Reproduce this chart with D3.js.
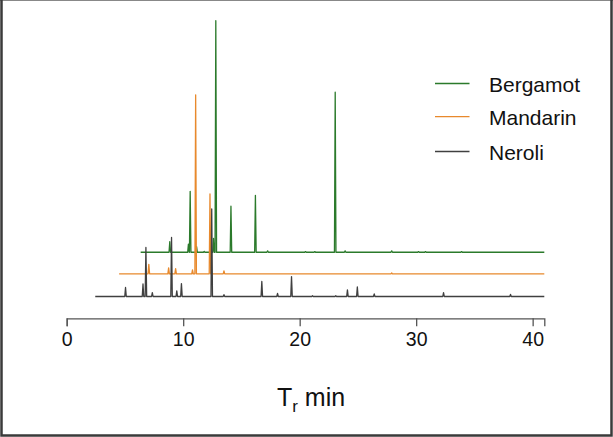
<!DOCTYPE html>
<html>
<head>
<meta charset="utf-8">
<script src="https://cdn.jsdelivr.net/npm/d3@7"></script>
<style>
  body { margin: 0; background: #fff; }
  svg { display: block; font-family: Arial, "Liberation Sans", sans-serif; }
</style>
</head>
<body>
<svg id="chart"></svg>
<script>
// Series names, in legend order
const seriesNames = ["Bergamot", "Mandarin", "Neroli"];

// Retention time range of each trace (min)
const traceStart = [6.35, 4.5, 2.45];
const traceEnd = [41, 41, 41];

// Peaks: retention time (min) and relative abundance (% of tallest peak)
const bergamotTimes = [8.85, 10.45, 10.6, 11.15, 11.8, 12.6, 12.8, 14.1, 16.2, 17.25, 20.5, 21.3, 23.05, 23.9, 27.9, 30.2, 30.8, 33.9];
const bergamotHeights = [4.6, 3.5, 26.3, 2.4, 0.4, 6.0, 100, 19.9, 24.6, 0.6, 0.3, 0.3, 69.1, 0.6, 0.6, 0.3, 0.3, 0.3];

const mandarinTimes = [7.05, 8.75, 9.35, 10.8, 11.07, 12.3, 13.5, 27.9];
const mandarinHeights = [4.1, 2.6, 2.2, 1.7, 77.3, 34.5, 1.3, 0.4];

const neroliTimes = [5.05, 6.55, 6.8, 7.35, 9.0, 9.45, 9.85, 12.45, 13.5, 16.75, 18.1, 19.3, 21.1, 23.1, 24.1, 24.95, 26.4, 32.35, 38.1];
const neroliHeights = [3.9, 5.4, 21.2, 1.7, 25.5, 2.4, 5.6, 37.8, 0.8, 6.5, 1.3, 8.6, 0.3, 0.3, 2.9, 4.1, 1.1, 1.7, 0.9];

const xTicks = [0, 10, 20, 30, 40];

// layout / style
const W = 613, H = 437;
const colors = ["#2b7a2b", "#e8892c", "#404040"];
const offsets = [19.1, 9.8, 0];   // vertical stacking of the traces (intensity units)
const peakHalfWidth = 0.065;

const svg = d3.select("#chart").attr("width", W).attr("height", H);

// outer frame: thin light top, darker left/right/bottom
svg.append("line").attr("x1", 0).attr("x2", W).attr("y1", 0.5).attr("y2", 0.5)
  .attr("stroke", "#888").attr("stroke-width", 1);
svg.append("path")
  .attr("d", `M1.5,0 V${H - 1.5} H${W - 1.5} V0`)
  .attr("fill", "none")
  .attr("stroke", "#3a3a3a")
  .attr("stroke-width", 2.5);

const x = d3.scaleLinear().domain([0, 41]).range([66.7, 544.3]);
const y = d3.scaleLinear().domain([0, 120]).range([296.5, 18.6]);

const peakTimes = [bergamotTimes, mandarinTimes, neroliTimes];
const peakHeights = [bergamotHeights, mandarinHeights, neroliHeights];

// build a trace: flat baseline with narrow spikes at each peak
function tracePoints(i) {
  const pts = [[traceStart[i], 0]];
  peakTimes[i].forEach((t, k) => {
    pts.push([t - peakHalfWidth, 0]);
    pts.push([t, peakHeights[i][k]]);
    pts.push([t + peakHalfWidth, 0]);
  });
  pts.push([traceEnd[i], 0]);
  return pts;
}

const line = d3.line();

seriesNames.forEach((name, i) => {
  const off = offsets[i];
  svg.append("path")
    .datum(tracePoints(i))
    .attr("fill", "none")
    .attr("stroke", colors[i])
    .attr("stroke-width", 1.3)
    .attr("stroke-linejoin", "round")
    .attr("d", line.x(d => x(d[0])).y(d => y(d[1] + off)));
});

// x axis
const axis = svg.append("g")
  .attr("transform", "translate(0,318.3)")
  .call(d3.axisBottom(x).tickValues(xTicks).tickSize(8).tickPadding(6).tickFormat(d3.format("d")));
axis.select(".domain").attr("stroke", "#555").attr("stroke-width", 1.3);
axis.selectAll(".tick line").attr("stroke", "#555").attr("stroke-width", 1.3);
axis.selectAll(".tick text")
  .attr("fill", "#111")
  .attr("font-size", "19.5px")
  .attr("font-family", "Arial, 'Liberation Sans', sans-serif");

// axis title: T_r min
const title = svg.append("text")
  .attr("x", 311)
  .attr("y", 406)
  .attr("text-anchor", "middle")
  .attr("font-size", "25px")
  .attr("fill", "#111");
title.append("tspan").text("T");
title.append("tspan").attr("font-size", "17px").attr("dy", 6).text("r");
title.append("tspan").attr("dy", -6).text(" min");

// legend
const legendY = [83.5, 116.7, 151.5];
seriesNames.forEach((name, i) => {
  svg.append("line")
    .attr("x1", 435).attr("x2", 469.5)
    .attr("y1", legendY[i]).attr("y2", legendY[i])
    .attr("stroke", colors[i])
    .attr("stroke-width", 1.3);
  svg.append("text")
    .attr("x", 489)
    .attr("y", legendY[i] + 8)
    .attr("font-size", "21px")
    .attr("fill", "#111")
    .text(name);
});
</script>
</body>
</html>
